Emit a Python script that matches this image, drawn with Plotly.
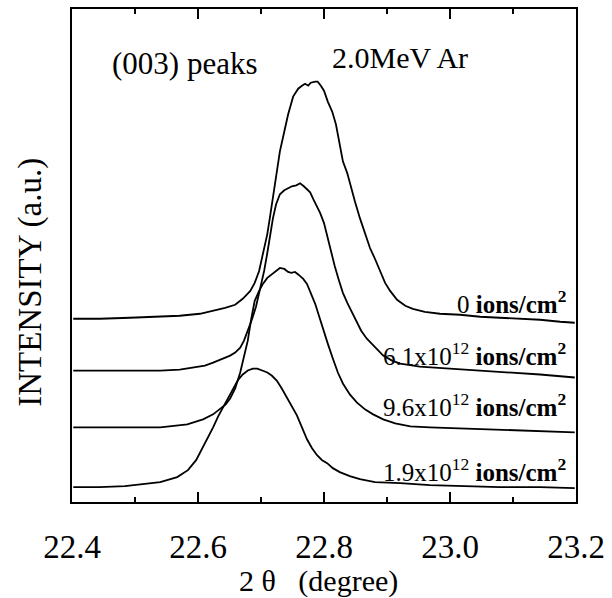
import plotly.graph_objects as go

# ---- data ----
theta_0 = [22.402,22.444,22.492,22.540,22.571,22.603,22.624,22.643,22.659,22.671,22.683,22.690,22.697,22.703,22.710,22.714,22.719,22.725,22.730,22.737,22.743,22.751,22.759,22.765,22.770,22.775,22.779,22.786,22.790,22.795,22.800,22.806,22.813,22.819,22.825,22.830,22.837,22.843,22.849,22.857,22.865,22.873,22.881,22.889,22.897,22.905,22.916,22.929,22.941,22.960,22.984,23.016,23.048,23.079,23.111,23.143,23.175,23.198]
int_0 = [184,184,185,186,187,189,192,195,198,204,212,220,232,249,269,285,305,330,352,372,389,407,415,418,420,418,421,422,422,418,413,402,392,379,359,342,330,315,302,285,270,255,244,232,220,212,203,197,194,191,189,188,186,185,184,183,181,180]

theta_61 = [22.402,22.444,22.492,22.540,22.571,22.592,22.611,22.624,22.635,22.644,22.651,22.659,22.667,22.673,22.679,22.686,22.692,22.698,22.705,22.710,22.714,22.719,22.724,22.730,22.737,22.743,22.749,22.756,22.762,22.768,22.773,22.778,22.783,22.789,22.794,22.800,22.805,22.811,22.817,22.824,22.830,22.837,22.843,22.851,22.859,22.868,22.881,22.894,22.908,22.921,22.952,23.000,23.048,23.095,23.143,23.198]
int_61 = [132,132,132,132,133,135,137,140,143,145,147,150,155,162,172,184,196,212,232,250,267,285,299,309,313,315,317,318,320,317,314,311,304,297,290,280,267,252,237,222,210,200,192,182,172,164,155,147,142,139,136,134,132,130,128,125]

theta_96 = [22.402,22.444,22.492,22.540,22.583,22.608,22.624,22.635,22.644,22.651,22.659,22.667,22.673,22.679,22.684,22.690,22.697,22.703,22.710,22.716,22.724,22.730,22.737,22.743,22.748,22.754,22.760,22.767,22.773,22.779,22.786,22.792,22.798,22.806,22.814,22.822,22.830,22.841,22.852,22.865,22.878,22.894,22.913,22.937,22.968,23.016,23.063,23.111,23.159,23.198]
int_96 = [75,75,75,75,78,83,88,93,98,104,114,130,145,162,182,202,212,219,225,228,232,235,234,231,230,231,228,224,219,210,199,187,174,159,144,130,119,108,100,93,88,83,79,76,75,74,73,72,71,70]

theta_19 = [22.402,22.444,22.484,22.516,22.540,22.567,22.584,22.597,22.608,22.616,22.624,22.632,22.640,22.648,22.656,22.663,22.671,22.679,22.687,22.694,22.702,22.710,22.717,22.725,22.733,22.741,22.749,22.757,22.765,22.773,22.781,22.789,22.797,22.805,22.814,22.825,22.841,22.857,22.881,22.921,22.968,23.016,23.079,23.143,23.198]
int_19 = [15,15,16,18,20,25,32,42,55,65,75,86,95,104,114,122,128,132,134,134,132,130,127,122,114,105,96,87,75,63,54,47,42,39,34,30,26,23,20,19,17,16,15,15,14]

series_theta = [theta_0, theta_61, theta_96, theta_19]
series_int = [int_0, int_61, int_96, int_19]
series_labels = [
    "0 <b>ions/cm<sup>2</sup></b>",
    "6.1x10<sup>12</sup> <b>ions/cm<sup>2</sup></b>",
    "9.6x10<sup>12</sup> <b>ions/cm<sup>2</sup></b>",
    "1.9x10<sup>12</sup> <b>ions/cm<sup>2</sup></b>",
]
label_y = [201, 149, 97, 32]

x_ticks = [22.4, 22.6, 22.8, 23.0, 23.2]
x_tick_text = ["22.4", "22.6", "22.8", "23.0", "23.2"]

FONT = "Liberation Serif, Times New Roman, DejaVu Serif, serif"

fig = go.Figure()
for th, it in zip(series_theta, series_int):
    fig.add_trace(go.Scatter(x=th, y=it, mode="lines",
                             line=dict(color="black", width=1.8),
                             showlegend=False, hoverinfo="skip"))

annotations = []
for txt, ly in zip(series_labels, label_y):
    annotations.append(dict(x=23.188, y=ly, xref="x", yref="y", text=txt,
                            showarrow=False, xanchor="right", yanchor="middle",
                            font=dict(family=FONT, size=25, color="black")))
annotations.append(dict(x=22.579, y=440, xref="x", yref="y", text="(003) peaks",
                        showarrow=False, xanchor="center", yanchor="middle",
                        font=dict(family=FONT, size=31, color="black")))
annotations.append(dict(x=22.921, y=446, xref="x", yref="y", text="2.0MeV Ar",
                        showarrow=False, xanchor="center", yanchor="middle",
                        font=dict(family=FONT, size=30, color="black")))
annotations.append(dict(x=-0.083, y=0.445, xref="paper", yref="paper",
                        text="INTENSITY (a.u.)", textangle=-90,
                        showarrow=False, xanchor="center", yanchor="middle",
                        font=dict(family=FONT, size=33, color="black")))
annotations.append(dict(x=0.49, y=-0.16, xref="paper", yref="paper",
                        text="2 θ&nbsp;&nbsp;&nbsp;(degree)",
                        showarrow=False, xanchor="center", yanchor="middle",
                        font=dict(family=FONT, size=30, color="black")))

fig.update_layout(
    width=612, height=598,
    margin=dict(l=72, r=36, t=7, b=96),
    paper_bgcolor="white", plot_bgcolor="white",
    font=dict(family=FONT, color="black"),
    annotations=annotations,
    xaxis=dict(range=[22.4, 23.2], tickvals=x_ticks, ticktext=x_tick_text,
               ticks="inside", ticklen=10, tickwidth=2, tickcolor="black",
               ticklabelstandoff=14,
               minor=dict(dtick=0.1, tick0=22.4, ticks="inside", ticklen=5,
                          tickwidth=1.5, tickcolor="black"),
               showline=True, linecolor="black", linewidth=2, mirror="ticks",
               showgrid=False, zeroline=False,
               tickfont=dict(family=FONT, size=33, color="black")),
    yaxis=dict(range=[0, 495], showticklabels=False, ticks="",
               showline=True, linecolor="black", linewidth=2, mirror=True,
               showgrid=False, zeroline=False),
)

fig.write_html("out.html")
